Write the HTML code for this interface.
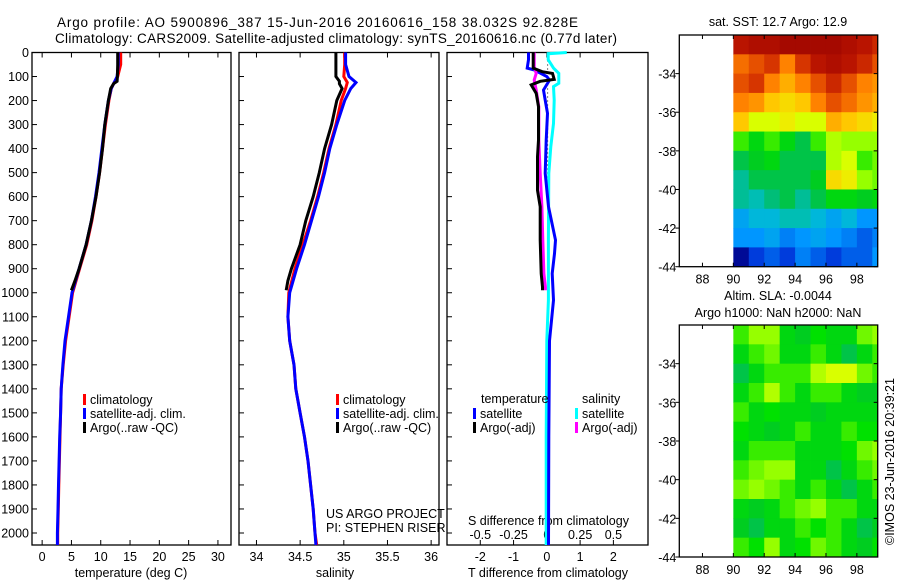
<!DOCTYPE html>
<html><head><meta charset="utf-8"><style>
html,body{margin:0;padding:0;background:#fff;}
svg text{font-family:"Liberation Sans",sans-serif;fill:#000;}
</style></head><body>
<svg id="fig" width="900" height="580" viewBox="0 0 900 580" xmlns="http://www.w3.org/2000/svg">
<rect width="900" height="580" fill="#fff"/>
<text x="57" y="27" font-size="13.5" textLength="521">Argo profile: AO 5900896_387 15-Jun-2016 20160616_158 38.032S 92.828E</text>
<text x="55" y="43" font-size="13.5" textLength="562">Climatology: CARS2009. Satellite-adjusted climatology: synTS_20160616.nc (0.77d later)</text>
<g id="g"></g>
</svg>
<script>
// ---- profile data ----
const depthsClim = [0,50,100,125,150,200,300,400,500,600,700,800,900,1000,1100,1200,1300,1400,1500,1600,1700,1800,1900,2000,2050];
const tempClim = [13.4,13.4,12.9,12.3,11.8,11.4,10.8,10.3,9.8,9.2,8.5,7.6,6.4,5.2,4.6,4.0,3.6,3.25,3.15,3.05,2.95,2.85,2.75,2.65,2.65];
const tempSat = [13.0,13.0,12.8,12.3,11.8,11.3,10.7,10.2,9.7,9.1,8.4,7.5,6.3,5.1,4.5,3.9,3.55,3.25,3.15,3.0,2.9,2.8,2.7,2.6,2.6];
const salClim = [35.01,35.01,35.0,35.04,35.02,34.97,34.91,34.83,34.77,34.70,34.62,34.53,34.44,34.37,34.36,34.38,34.43,34.45,34.50,34.55,34.59,34.62,34.65,34.67,34.69];
const salSat = [35.02,35.02,35.06,35.14,35.08,35.01,34.92,34.84,34.78,34.71,34.63,34.55,34.46,34.38,34.36,34.38,34.43,34.45,34.50,34.55,34.59,34.62,34.65,34.67,34.68];
const depthsArgo = [0,50,100,120,130,150,200,300,400,500,600,700,800,900,950,990];
const tempArgo = [12.9,12.9,12.85,12.8,12.2,11.7,11.3,10.7,10.3,9.8,9.2,8.4,7.5,6.3,5.6,5.0];
const salArgo = [34.91,34.91,34.91,34.95,34.95,34.98,34.92,34.86,34.78,34.72,34.65,34.565,34.50,34.40,34.36,34.34];
// ---- difference data ----
const depthsTSatDiff = [0,30,65,73,100,115,156,198,253,365,503,642,781,837,920,1031,1200,1600,2050];
const tSatDiff = [-0.55,-0.55,-0.59,-0.37,0.0,0.08,-0.1,-0.05,0.02,-0.02,-0.05,0.05,0.26,0.23,0.16,0.2,0.08,0.06,0.05];
const depthsTArgoDiff = [0,65,80,87,112,120,135,170,226,365,434,573,642,781,920,976,990];
const tArgoDiff = [-0.41,-0.41,-0.14,0.17,0.22,-0.2,-0.47,-0.32,-0.25,-0.25,-0.28,-0.28,-0.2,-0.2,-0.17,-0.13,-0.13];
const depthsSSatDiff = [0,5,30,65,87,128,142,198,295,392,503,781,1031,1200,1600,2050];
const sSatDiff = [0.15,0.01,0.01,0.05,0.09,0.09,0.05,0.055,0.05,0.03,0.015,0.012,0.012,0.0,-0.005,-0.005];
const depthsSArgoDiff = [0,60,87,115,156,226,365,503,642,781,920,976,990];
const sArgoDiff = [-0.095,-0.095,-0.08,-0.095,-0.08,-0.06,-0.06,-0.05,-0.037,-0.03,-0.022,-0.011,-0.011];
// ---- ticks ----
const depthTicks = [0,100,200,300,400,500,600,700,800,900,1000,1100,1200,1300,1400,1500,1600,1700,1800,1900,2000];
const tempTicks = [0,5,10,15,20,25,30];
const salTicks = [34,34.5,35,35.5,36];
const tdiffTicks = [-2,-1,0,1,2];
const sdiffTicks = [-0.5,-0.25,0,0.25,0.5];
const latTicks = [-34,-36,-38,-40,-42,-44];
const lonTicks = [88,90,92,94,96,98];
// ---- maps (colormap fraction, rows from -32 southward, cols from 90E) ----
const sstGrid = [
[0.93,0.95,0.95,0.97,0.97,0.97,0.97,0.95,0.93,0.9],
[0.82,0.85,0.88,0.8,0.88,0.93,0.95,0.93,0.9,0.85],
[0.85,0.88,0.8,0.75,0.8,0.85,0.9,0.85,0.8,0.78],
[0.8,0.78,0.72,0.7,0.72,0.8,0.85,0.82,0.78,0.75],
[0.72,0.65,0.65,0.68,0.65,0.65,0.75,0.72,0.7,0.68],
[0.55,0.5,0.55,0.5,0.45,0.55,0.62,0.6,0.6,0.6],
[0.45,0.48,0.5,0.45,0.45,0.45,0.62,0.65,0.55,0.58],
[0.4,0.45,0.45,0.45,0.45,0.48,0.7,0.68,0.6,0.58],
[0.4,0.38,0.42,0.45,0.4,0.45,0.5,0.5,0.48,0.5],
[0.32,0.35,0.35,0.38,0.38,0.35,0.32,0.35,0.3,0.3],
[0.3,0.3,0.32,0.28,0.3,0.32,0.3,0.28,0.25,0.28],
[0.15,0.22,0.25,0.22,0.28,0.25,0.22,0.25,0.25,0.3]];
const slaGrid = [
[0.55,0.6,0.6,0.5,0.48,0.52,0.5,0.5,0.58,0.6],
[0.5,0.55,0.58,0.5,0.5,0.55,0.5,0.45,0.5,0.55],
[0.45,0.5,0.55,0.55,0.55,0.62,0.65,0.65,0.58,0.55],
[0.5,0.55,0.62,0.55,0.5,0.55,0.55,0.5,0.48,0.48],
[0.55,0.5,0.52,0.5,0.5,0.48,0.5,0.5,0.5,0.5],
[0.52,0.5,0.48,0.5,0.55,0.5,0.5,0.55,0.52,0.52],
[0.5,0.55,0.55,0.55,0.5,0.5,0.5,0.52,0.58,0.6],
[0.55,0.58,0.6,0.6,0.5,0.5,0.45,0.5,0.55,0.58],
[0.58,0.6,0.58,0.55,0.5,0.55,0.5,0.45,0.5,0.55],
[0.5,0.48,0.5,0.55,0.58,0.6,0.55,0.55,0.5,0.5],
[0.48,0.45,0.5,0.5,0.55,0.52,0.55,0.5,0.45,0.48],
[0.55,0.52,0.6,0.5,0.52,0.58,0.55,0.5,0.48,0.52]];

const NS='http://www.w3.org/2000/svg';
const G=document.getElementById('g');
function mk(tag,attrs,parent){const e=document.createElementNS(NS,tag);for(const k in attrs)e.setAttribute(k,attrs[k]);(parent||G).appendChild(e);return e;}
function txt(x,y,s,size,anchor,name){const t=mk('text',{x:x,y:y,'font-size':size,'text-anchor':anchor||'start'});t.textContent=s;


return t;}

const yTop=52.5, yBot=545;
const yD=d=>yTop+(d/2050)*(yBot-yTop);
const panels=[
 {x0:32,x1:231,min:-1.73,max:32.23,name:'temperature-panel'},
 {x0:239,x1:439,min:33.8,max:36.09,name:'salinity-panel'},
 {x0:447,x1:648,min:-3.0,max:3.04,name:'difference-panel'}];
function sx(p,v){return p.x0+(v-p.min)/(p.max-p.min)*(p.x1-p.x0);}

function line(p,depths,vals,color,name,scale){
 const pts=depths.map((d,i)=>sx(p,vals[i]*(scale||1)).toFixed(1)+','+yD(d).toFixed(1)).join(' ');
 const l=mk('polyline',{points:pts,fill:'none',stroke:color,'stroke-width':3,'stroke-linejoin':'miter'});
 
 
}

panels.forEach((p,pi)=>{
 const r=mk('rect',{x:p.x0,y:yTop,width:p.x1-p.x0,height:yBot-yTop,fill:'none',stroke:'#000','stroke-width':1.3});
 
 
 depthTicks.forEach(d=>{
  mk('line',{x1:p.x0,x2:p.x0+5,y1:yD(d),y2:yD(d),stroke:'#000'});
  if(pi===0) txt(p.x0-3,yD(d)+4.5,String(d),12.5,'end','depth-tick-label');
 });
});
const xt=[[0,tempTicks],[1,salTicks],[2,tdiffTicks]];
xt.forEach(([pi,ticks])=>{const p=panels[pi];ticks.forEach(v=>{const x=sx(p,v);
 mk('line',{x1:x,x2:x,y1:yTop,y2:yTop+5,stroke:'#000'});mk('line',{x1:x,x2:x,y1:yBot,y2:yBot-5,stroke:'#000'});
 txt(x,561,String(v),12.5,'middle','x-tick-label');});});
sdiffTicks.forEach(v=>{txt(sx(panels[2],v*4),539,String(v),12.5,'middle','s-diff-tick-label');});
txt(131,577,'temperature (deg C)',12.5,'middle','x-axis-title-temperature');
txt(335,577,'salinity',12.5,'middle','x-axis-title-salinity');
txt(548,577,'T difference from climatology',12.5,'middle','x-axis-title-t-diff');
txt(468,525,'S difference from climatology',12.5,'start','s-diff-axis-title');

const P0=panels[0],P1=panels[1],P2=panels[2];
line(P0,depthsClim,tempClim,'#ff0000','temp-climatology-line');
line(P0,depthsClim,tempSat,'#0000ff','temp-satellite-line');
line(P0,depthsArgo,tempArgo,'#000000','temp-argo-line');
line(P1,depthsClim,salClim,'#ff0000','sal-climatology-line');
line(P1,depthsClim,salSat,'#0000ff','sal-satellite-line');
line(P1,depthsArgo,salArgo,'#000000','sal-argo-line');
const z=mk('line',{x1:sx(P2,0)+0.8,x2:sx(P2,0)+0.8,y1:yTop,y2:yD(990),stroke:'#000','stroke-dasharray':'1,3'});


line(P2,depthsSSatDiff,sSatDiff,'#00ffff','s-satellite-diff-line',4);
line(P2,depthsTSatDiff,tSatDiff,'#0000ff','t-satellite-diff-line');
line(P2,depthsSArgoDiff,sArgoDiff,'#ff00ff','s-argo-diff-line',4);
line(P2,depthsTArgoDiff,tArgoDiff,'#000000','t-argo-diff-line');

function leg(x,y,color,label,name){const b=mk('rect',{x:x,y:y-9,width:3,height:11,fill:color});
 
 
 txt(x+7,y+1,label,12.5,'start',name+'-label');}
leg(83,403,'#ff0000','climatology','legend-climatology');
leg(83,417,'#0000ff','satellite-adj. clim.','legend-satellite');
leg(83,431,'#000000','Argo(..raw -QC)','legend-argo');
leg(336,403,'#ff0000','climatology','legend2-climatology');
leg(336,417,'#0000ff','satellite-adj. clim.','legend2-satellite');
leg(336,431,'#000000','Argo(..raw -QC)','legend2-argo');
txt(481,403,'temperature',12.5,'start','legend-temperature-heading');
txt(582,403,'salinity',12.5,'start','legend-salinity-heading');
leg(473,417,'#0000ff','satellite','legend-t-satellite');
leg(473,431,'#000000','Argo(-adj)','legend-t-argo');
leg(575,417,'#00ffff','satellite','legend-s-satellite');
leg(575,431,'#ff00ff','Argo(-adj)','legend-s-argo');
txt(326,518,'US ARGO PROJECT',12.5,'start','project-label');
txt(326,532,'PI: STEPHEN RISER',12.5,'start','pi-label');

// colormap (saturated jet-like as in reference)
const cmStops=[[0,[0,0,110]],[0.15,[0,10,150]],[0.22,[0,60,220]],[0.3,[0,150,255]],[0.36,[0,190,210]],[0.42,[0,190,120]],[0.47,[0,200,40]],[0.52,[0,225,0]],[0.6,[150,255,0]],[0.66,[230,255,0]],[0.72,[255,200,0]],[0.8,[255,130,0]],[0.87,[220,60,0]],[0.93,[185,20,0]],[1,[150,0,0]]];
function cmap(v){for(let i=1;i<cmStops.length;i++){if(v<=cmStops[i][0]){const a=cmStops[i-1],b=cmStops[i],t=(v-a[0])/(b[0]-a[0]);
 return 'rgb('+a[1].map((c,k)=>Math.round(c+(b[1][k]-c)*t)).join(',')+')';}}return 'rgb(150,0,0)';}
function map(top,bot,grid,name,t1,t2){
 const x0=679.3,x1=877.7,lonMin=86.5,lonMax=99.35,latTop=-32,latBot=-44;
 const mx=l=>x0+(l-lonMin)/(lonMax-lonMin)*(x1-x0);
 const my=l=>top+(latTop-l)/(latTop-latBot)*(bot-top);
 const g=mk('g',{});
 
 
 grid.forEach((row,ri)=>row.forEach((v,ci)=>{
  const lx=90+ci, la=latTop-ri;
  const xa=mx(lx), xb=Math.min(mx(lx+1),x1);
  const c=mk('rect',{x:xa.toFixed(2),y:my(la).toFixed(2),width:(xb-xa+0.4).toFixed(2),height:(my(la-1)-my(la)+0.4).toFixed(2),fill:cmap(v)},g);
  
  
 }));
 const r=mk('rect',{x:x0,y:top,width:x1-x0,height:bot-top,fill:'none',stroke:'#000','stroke-width':1.3});
 
 
 latTicks.forEach(l=>{const y=my(l);mk('line',{x1:x0-4,x2:x0,y1:y,y2:y,stroke:'#000'});mk('line',{x1:x1-4,x2:x1,y1:y,y2:y,stroke:'#000'});
  txt(x0-3,y+5,String(l),12.5,'end','lat-tick-label');});
 lonTicks.forEach(l=>{const x=mx(l);mk('line',{x1:x,x2:x,y1:top,y2:top+4,stroke:'#000'});mk('line',{x1:x,x2:x,y1:bot,y2:bot-4,stroke:'#000'});
  txt(x,bot+17,String(l),12.5,'middle','lon-tick-label');});
 txt(778,t2?top-25:top-9,t1,12.5,'middle',name+'-title');
 if(t2) txt(778,top-8,t2,12.5,'middle',name+'-subtitle');
}
map(35,266.7,sstGrid,'sst-map','sat. SST: 12.7 Argo: 12.9');
map(325,557,slaGrid,'sla-map','Altim. SLA: -0.0044','Argo h1000: NaN h2000: NaN');
const im=txt(0,0,'©IMOS 23-Jun-2016 20:39:21',12.5,'start','imos-timestamp');
im.setAttribute('transform','translate(894,545) rotate(-90)');
</script>
</body></html>
